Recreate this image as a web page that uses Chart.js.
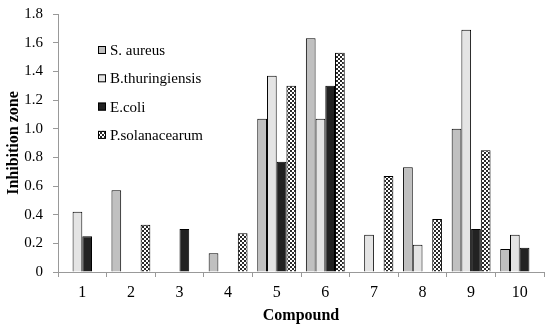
<!DOCTYPE html>
<html>
<head>
<meta charset="utf-8">
<script src="https://cdn.jsdelivr.net/npm/chart.js@4"></script>
<style>
  html, body { margin: 0; padding: 0; background: #fff; }
  #wrap { width: 550px; height: 327px; }
</style>
</head>
<body>
<div id="wrap"><canvas id="inhibitionChart"></canvas></div>
<script>
const compounds = ['1', '2', '3', '4', '5', '6', '7', '8', '9', '10'];
const sAureus = [null, 0.57, null, 0.13, 1.07, 1.63, null, 0.73, 1.00, 0.16];
const bThuringiensis = [0.42, null, null, null, 1.37, 1.07, 0.26, 0.19, 1.69, 0.26];
const eColi = [0.25, null, 0.30, null, 0.77, 1.30, null, null, 0.30, 0.17];
const pSolanacearum = [null, 0.33, null, 0.27, 1.30, 1.53, 0.67, 0.37, 0.85, null];
const yTicks = [0, 0.2, 0.4, 0.6, 0.8, 1, 1.2, 1.4, 1.6, 1.8];

const serif = '"Liberation Serif", "Times New Roman", serif';

function checkerPattern() {
    const c = document.createElement('canvas');
    c.width = 4;
    c.height = 4;
    const g = c.getContext('2d');
    g.fillStyle = '#ffffff';
    g.fillRect(0, 0, 4, 4);
    g.fillStyle = '#2a2a2a';
    g.fillRect(0, 0, 2, 2);
    g.fillRect(2, 2, 2, 2);
    return g.createPattern(c, 'repeat');
}

// legend drawn inside the plot, top-left, like the original
const insideLegend = {
    id: 'insideLegend',
    afterDraw(chart) {
        const ctx = chart.ctx;
        const area = chart.chartArea;
        ctx.save();
        ctx.font = '15px ' + serif;
        ctx.textBaseline = 'middle';
        chart.data.datasets.forEach((ds, i) => {
            const x = area.left + 40;
            const y = area.top + 36 + i * 28.3;
            ctx.fillStyle = ds.backgroundColor;
            ctx.fillRect(x, y - 4, 8, 8);
            ctx.strokeStyle = '#000';
            ctx.lineWidth = 1;
            ctx.strokeRect(x + 0.5, y - 3.5, 7, 7);
            ctx.fillStyle = '#000';
            ctx.fillText(ds.label, x + 12, y + 1);
        });
        ctx.restore();
    }
};

const ctx = document.getElementById('inhibitionChart').getContext('2d');
const chart = new Chart(ctx, {
    type: 'bar',
    data: {
        labels: compounds,
        datasets: [
            { label: 'S. aureus', data: sAureus, backgroundColor: '#c0c0c0' },
            { label: 'B.thuringiensis', data: bThuringiensis, backgroundColor: '#e4e4e4' },
            { label: 'E.coli', data: eColi, backgroundColor: '#222222' },
            { label: 'P.solanacearum', data: pSolanacearum, backgroundColor: checkerPattern() }
        ].map(ds => Object.assign(ds, {
            borderColor: '#000',
            borderWidth: 1,
            categoryPercentage: 0.8,
            barPercentage: 1
        }))
    },
    options: {
        responsive: true,
        maintainAspectRatio: false,
        animation: false,
        layout: { padding: { top: 14, right: 6, left: 0, bottom: 0 } },
        plugins: {
            legend: { display: false },
            tooltip: { enabled: false }
        },
        scales: {
            x: {
                grid: { display: true, drawOnChartArea: false, drawTicks: true, tickLength: 5, color: '#999' },
                border: { color: '#999' },
                ticks: { color: '#000', font: { family: serif, size: 16 }, padding: 6 },
                title: { display: true, text: 'Compound', color: '#000', font: { family: serif, size: 16, weight: 'bold' }, padding: { top: 2, bottom: 2 } },
                afterFit: s => { s.height = 55; s.paddingRight = 0; s.paddingLeft = 0; }
            },
            y: {
                min: 0,
                max: 1.8,
                afterBuildTicks: s => { s.ticks = yTicks.map(v => ({ value: v })); },
                grid: { display: true, drawOnChartArea: false, drawTicks: true, tickLength: 5, color: '#999' },
                border: { color: '#999' },
                ticks: { color: '#000', font: { family: serif, size: 15 }, padding: 10 },
                title: { display: true, text: 'Inhibition zone', color: '#000', font: { family: serif, size: 16, weight: 'bold' }, padding: { top: 4, bottom: 0 } },
                afterFit: s => { s.width = 58; s.paddingTop = 0; s.paddingBottom = 0; }
            }
        }
    },
    plugins: [insideLegend]
});
</script>
</body>
</html>
